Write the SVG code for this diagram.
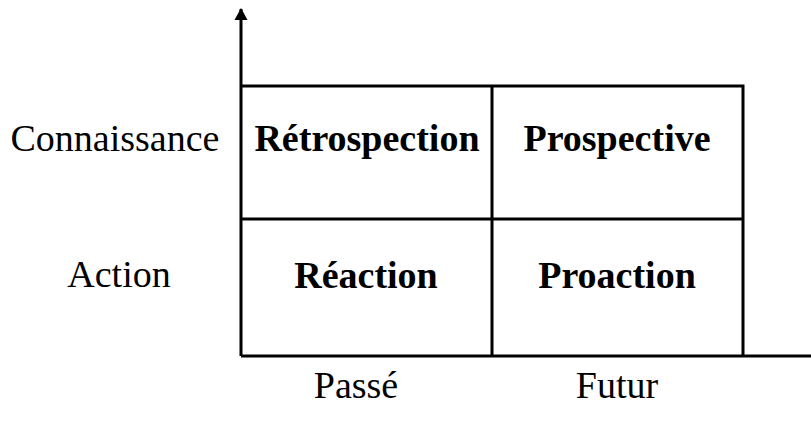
<svg xmlns="http://www.w3.org/2000/svg" width="811" height="425" viewBox="0 0 811 425">
<defs>
<style>
.t{font-family:"Liberation Serif","Times New Roman",serif;font-size:38px;fill:#000}
.b{font-weight:bold;text-anchor:middle}
.m{text-anchor:middle}
.ln{stroke:#000;stroke-width:3;fill:none}
</style>
<marker id="ah" markerWidth="14" markerHeight="14" refX="11" refY="7" orient="auto" markerUnits="userSpaceOnUse">
<path d="M0,0.5 L12,7 L0,13.5 Z" fill="#000"/>
</marker>
</defs>
<rect width="811" height="425" fill="#fff"/>
<g id="connectors">
<line class="ln" x1="241" y1="356" x2="241" y2="9" marker-end="url(#ah)"/>
<line class="ln" x1="241" y1="356" x2="811" y2="356"/>
</g>
<g id="grid">
<polyline class="ln" points="241,86 743,86 743,356"/>
<line class="ln" x1="241" y1="219" x2="743" y2="219"/>
<line class="ln" x1="492" y1="86" x2="492" y2="356"/>
</g>
<g id="retrospection"><text class="t b" x="367" y="151">Rétrospection</text></g>
<g id="prospective"><text class="t b" x="617" y="151">Prospective</text></g>
<g id="reaction"><text class="t b" x="366" y="288">Réaction</text></g>
<g id="proaction"><text class="t b" x="617" y="288">Proaction</text></g>
<g id="connaissance"><text class="t m" x="115" y="151">Connaissance</text></g>
<g id="action"><text class="t m" x="119" y="287">Action</text></g>
<g id="passe"><text class="t m" x="356" y="398">Passé</text></g>
<g id="futur"><text class="t m" x="617" y="398">Futur</text></g>
</svg>
